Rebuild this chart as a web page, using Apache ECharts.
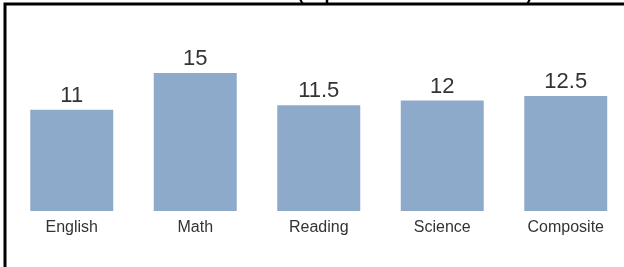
<!DOCTYPE html>
<html>
<head>
<meta charset="utf-8">
<script src="https://cdn.jsdelivr.net/npm/echarts@6/dist/echarts.min.js"></script>
<style>
html,body{margin:0;padding:0;background:#fff;overflow:hidden;width:624px;height:267px;}
#chart{width:640px;height:267px;}
</style>
</head>
<body>
<div id="chart"></div>
<script>
const titleText = "Performance Scores (Improvement from Scores)";
const categories = ["English", "Math", "Reading", "Science", "Composite"];
const values = [11, 15, 11.5, 12, 12.5];

const chart = echarts.init(document.getElementById('chart'), null, {renderer: 'canvas'});
chart.setOption({
  animation: false,
  title: {
    text: titleText,
    left: 320,
    textAlign: 'center',
    top: -20,
    textStyle: {fontFamily: 'Liberation Sans, Arial, sans-serif', fontSize: 18, fontWeight: 'bold', color: '#000'}
  },
  graphic: [{
    type: 'rect',
    shape: {x: 5, y: 4, width: 700, height: 400},
    style: {fill: null, stroke: '#000', lineWidth: 3},
    z: 10
  }],
  grid: {left: 10, top: 27, right: 12.5, height: 184, containLabel: false},
  xAxis: {
    type: 'category',
    data: categories,
    axisLine: {show: false},
    axisTick: {show: false},
    axisLabel: {fontFamily: 'Liberation Sans, Arial, sans-serif', fontSize: 16, color: '#333', margin: 9}
  },
  yAxis: {
    type: 'value',
    min: 0,
    max: 20,
    show: false,
    splitLine: {show: false}
  },
  series: [{
    type: 'bar',
    data: values,
    barWidth: 83,
    itemStyle: {color: '#8eaacb'},
    label: {
      show: true,
      position: 'top',
      distance: 3,
      fontFamily: 'Liberation Sans, Arial, sans-serif',
      fontSize: 22,
      color: '#333'
    }
  }]
});
</script>
</body>
</html>
